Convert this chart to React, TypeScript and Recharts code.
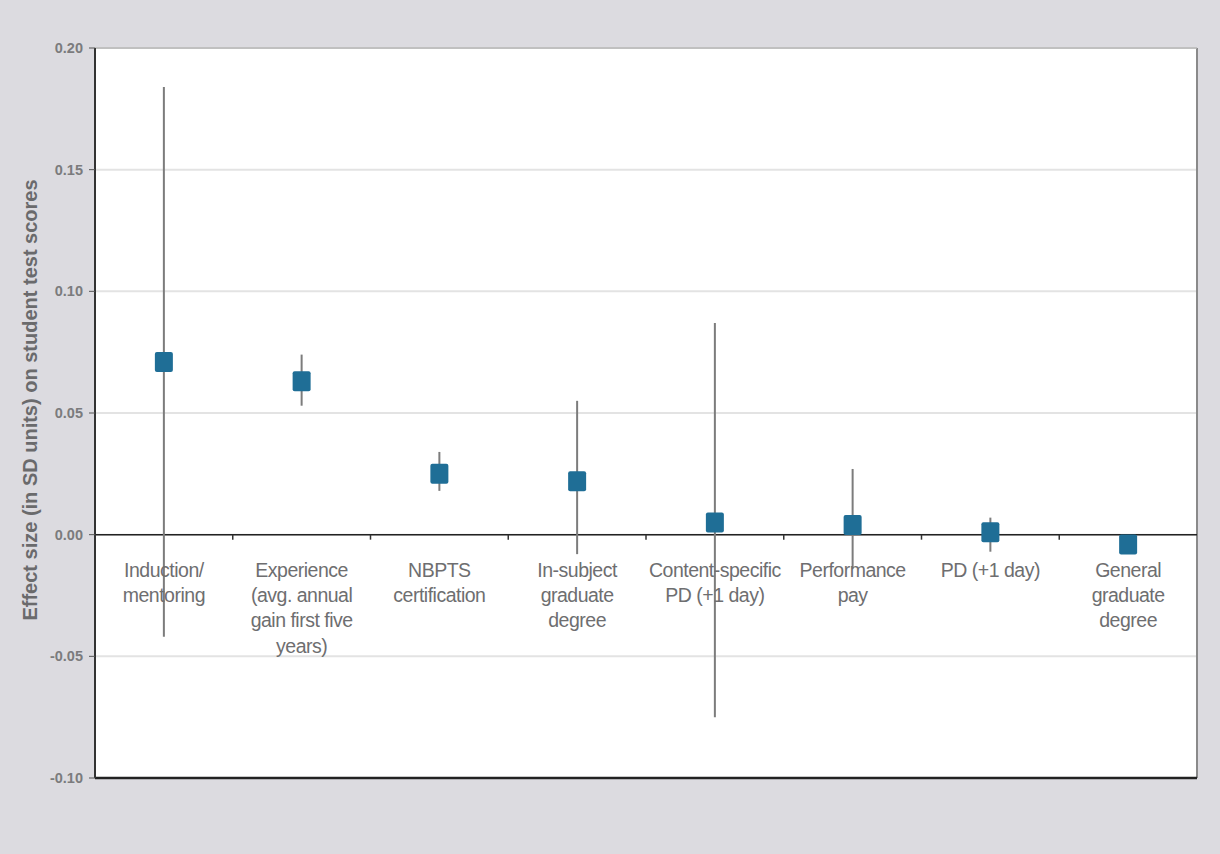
import {
  CartesianGrid,
  ComposedChart,
  ErrorBar,
  ReferenceLine,
  Scatter,
  XAxis,
  YAxis,
} from "recharts";

const categories = [
  "Induction/\nmentoring",
  "Experience\n(avg. annual\ngain first five\nyears)",
  "NBPTS\ncertification",
  "In-subject\ngraduate\ndegree",
  "Content-specific\nPD (+1 day)",
  "Performance\npay",
  "PD (+1 day)",
  "General\ngraduate\ndegree",
];
const effects = [0.071, 0.063, 0.025, 0.022, 0.005, 0.004, 0.001, -0.004];
const ciLow = [-0.042, 0.053, 0.018, -0.008, -0.075, -0.014, -0.007, -0.006];
const ciHigh = [0.184, 0.074, 0.034, 0.055, 0.087, 0.027, 0.007, -0.002];
const yTicks = [-0.1, -0.05, 0, 0.05, 0.1, 0.15, 0.2];

const W = 1220;
const H = 854;
const M = { top: 48, right: 23, left: 0, bottom: 75 };
const Y_AXIS_W = 95;
const X_AXIS_H = 1;
const PLOT_H = H - M.top - M.bottom - X_AXIS_H;
const PLOT_W = W - M.left - M.right - Y_AXIS_W;
const PLOT_RIGHT = M.left + Y_AXIS_W + PLOT_W;
const Y_MIN = -0.1;
const Y_MAX = 0.2;
const ZERO_Y = M.top + (PLOT_H * (Y_MAX - 0)) / (Y_MAX - Y_MIN);
const BAND = PLOT_W / categories.length;

const data = categories.map((name, i) => ({
  name,
  effect: effects[i],
  err: [effects[i] - ciLow[i], ciHigh[i] - effects[i]],
}));

const BLUE = "#1f6e96";
const FONT = "'Liberation Sans', Arial, sans-serif";

function CategoryTick(props: any) {
  const { x, payload, index } = props;
  const lines = String(payload.value).split("\n");
  return (
    <g>
      {index < categories.length - 1 && (
        <line x1={x + BAND / 2} x2={x + BAND / 2} y1={ZERO_Y} y2={ZERO_Y + 5} stroke="#333" strokeWidth={1.5} />
      )}
      <text x={x} y={ZERO_Y + 42} textAnchor="middle" fill="#6e6e70" fontSize={19.5} fontFamily={FONT} letterSpacing={-0.5}>
        {lines.map((l, i) => (
          <tspan key={i} x={x} dy={i === 0 ? 0 : 25.3}>
            {l}
          </tspan>
        ))}
      </text>
    </g>
  );
}

function SquareMarker(props: any) {
  const { cx, cy } = props;
  return <rect x={cx - 9} y={cy - 10} width={18} height={20} rx={2} fill={BLUE} />;
}

function YLabel() {
  return (
    <text
      x={30}
      y={400}
      transform="rotate(-90, 30, 400)"
      textAnchor="middle"
      dominantBaseline="central"
      fill="#6a6a6c"
      fontSize={20}
      fontWeight="bold"
      fontFamily={FONT}
    >
      Effect size (in SD units) on student test scores
    </text>
  );
}

export default function App() {
  return (
    <div style={{ position: "absolute", left: 0, top: 0, width: W, height: H, background: "#dcdbe0" }}>
      <ComposedChart width={W} height={H} data={data} margin={M}>
        <CartesianGrid vertical={false} stroke="#e3e3e3" strokeWidth={2} fill="#ffffff" />
        <CartesianGrid horizontal={false} verticalPoints={[PLOT_RIGHT]} stroke="#8a8a8a" strokeWidth={2} />
        <XAxis
          dataKey="name"
          scale="band"
          height={X_AXIS_H}
          axisLine={false}
          tickLine={false}
          interval={0}
          tick={(p: any) => <CategoryTick {...p} />}
        />
        <YAxis
          width={Y_AXIS_W}
          domain={[Y_MIN, Y_MAX]}
          ticks={yTicks}
          type="number"
          allowDataOverflow
          tickFormatter={(v: number) => v.toFixed(2)}
          tick={{ fill: "#7b7b7d", fontSize: 14.5, fontWeight: "bold", fontFamily: FONT }}
          tickLine={{ stroke: "#555" }}
          tickSize={6}
          tickMargin={6}
          axisLine={{ stroke: "#333", strokeWidth: 2 }}
          label={{ content: () => <YLabel /> }}
        />
        <ReferenceLine y={Y_MAX} stroke="#b5b5b5" strokeWidth={1.5} />
        <ReferenceLine y={Y_MIN} stroke="#222" strokeWidth={2.5} />
        <ReferenceLine y={0} stroke="#222" strokeWidth={1.5} />
        <Scatter dataKey="effect" fill={BLUE} shape={<SquareMarker />} isAnimationActive={false}>
          <ErrorBar dataKey="err" direction="y" width={0} stroke="#7c7c7c" strokeWidth={2} />
        </Scatter>
      </ComposedChart>
    </div>
  );
}
